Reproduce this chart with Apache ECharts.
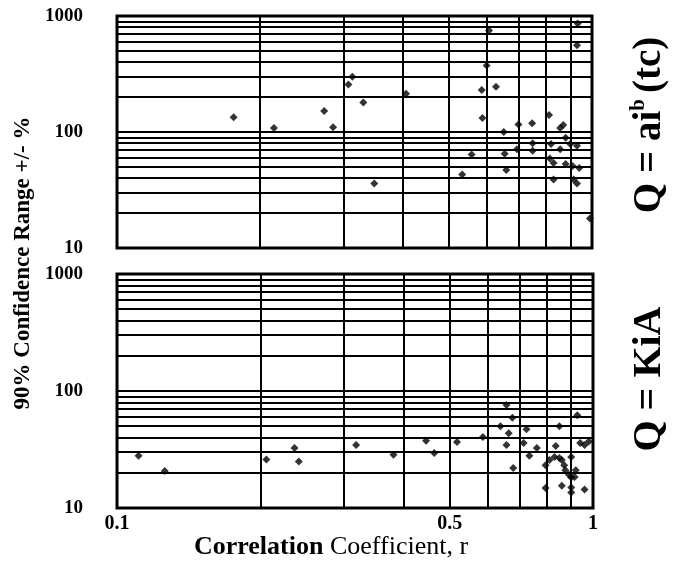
<!DOCTYPE html>
<html>
<head>
<meta charset="utf-8">
<script src="https://cdn.jsdelivr.net/npm/echarts@6/dist/echarts.min.js"></script>
<style>html,body{margin:0;padding:0;background:#fff;}#c{width:686px;height:565px;}</style>
</head>
<body>
<div id="c"></div>
<script>
// ---- data ----
const topR = [0.176,0.214,0.273,0.285,0.307,0.313,0.33,0.348,0.406,0.533,0.558,0.586,0.588,0.607,0.6,0.628,0.652,0.655,0.66,0.695,0.7,0.748,0.75,0.75,0.812,0.82,0.815,0.83,0.83,0.857,0.87,0.857,0.88,0.9,0.88,0.91,0.915,0.93,0.94,0.93,0.933,0.93,0.99];
const topV = [134,108,152,110,257,300,180,36,214,43,64,230,132,750,375,246,100,65,47,71,116,119,80,69,140,79,59,54,39,108,115,71,89,79,53,51,39,36,49,76,860,560,18];
const botR = [0.111,0.126,0.206,0.236,0.241,0.318,0.381,0.446,0.464,0.518,0.587,0.639,0.658,0.658,0.665,0.677,0.68,0.715,0.725,0.735,0.762,0.795,0.81,0.83,0.835,0.85,0.85,0.86,0.87,0.875,0.89,0.9,0.9,0.915,0.92,0.927,0.94,0.96,0.98,0.795,0.86,0.9,0.9,0.96];
const botV = [28,20.7,26,32.5,25,34.5,28.5,37.5,29.5,36.6,40.5,50,76,34.5,43.6,59,22,36,47,28,32.6,23.2,25.7,27.3,33.8,26.7,50,25.7,23.2,21,19.2,18.2,27.3,18.4,21,62,36,34.5,37,14.8,15.5,15,13.6,14.4];
const gridX = [0.1,0.2,0.3,0.4,0.5,0.6,0.7,0.8,0.9,1];
const gridY = [10,20,30,40,50,60,70,80,90,100,200,300,400,500,600,700,800,900,1000];
const xTickLabels = [0.1,0.5,1];
const yTickLabels = [10,100,1000];
const yTitle = '90% Confidence Range +/- %';
const xTitleBold = 'Correlation';
const xTitleRest = ' Coefficient, r';
const topLabel = ['Q = ai', 'b', '(tc)'];
const botLabel = 'Q = KiA';

const SERIF = '"Liberation Serif", "DejaVu Serif", serif';
const chart = echarts.init(document.getElementById('c'), null, {renderer: 'canvas'});

function pairs(r, v) { return r.map((x, i) => [x, v[i]]); }
function gridLines() {
  return gridY.map(v => ({yAxis: v})).concat(gridX.map(v => ({xAxis: v})));
}
function xAxisDef(idx, showLabels) {
  return {
    type: 'log', logBase: 10, min: 0.1, max: 1, gridIndex: idx,
    axisLine: {show: false}, axisTick: {show: false}, splitLine: {show: false},
    axisLabel: {
      show: showLabels, customValues: xTickLabels, margin: 6,
      fontFamily: SERIF, fontWeight: 'bold', fontSize: 20, color: '#000',
      formatter: v => String(+(+v).toFixed(2))
    }
  };
}
function yAxisDef(idx) {
  return {
    type: 'log', logBase: 10, min: 10, max: 1000, gridIndex: idx,
    axisLine: {show: false}, axisTick: {show: false}, splitLine: {show: false},
    axisLabel: {
      customValues: yTickLabels, margin: 34,
      fontFamily: SERIF, fontWeight: 'bold', fontSize: 19, color: '#000',
      formatter: v => String(Math.round(+v))
    }
  };
}
function lineSeries(idx) {
  return {
    type: 'scatter', xAxisIndex: idx, yAxisIndex: idx, data: [], z: 1, silent: true,
    markLine: {
      silent: true, symbol: ['none', 'none'], animation: false,
      label: {show: false},
      lineStyle: {color: '#000', width: 2, type: 'solid', opacity: 1},
      emphasis: {disabled: true},
      data: gridLines()
    }
  };
}
function pointSeries(idx, data) {
  return {
    type: 'scatter', xAxisIndex: idx, yAxisIndex: idx, data: data, z: 5,
    symbol: 'diamond', symbolSize: 8,
    itemStyle: {color: '#000'}, animation: false
  };
}

chart.setOption({
  backgroundColor: '#fff',
  animation: false,
  grid: [
    {left: 117, top: 16, width: 475, height: 232, show: true, borderColor: '#000', borderWidth: 3},
    {left: 117, top: 274, width: 476, height: 234, show: true, borderColor: '#000', borderWidth: 3}
  ],
  xAxis: [xAxisDef(0, false), xAxisDef(1, true)],
  yAxis: [yAxisDef(0), yAxisDef(1)],
  series: [lineSeries(0), lineSeries(1), pointSeries(0, pairs(topR, topV)), pointSeries(1, pairs(botR, botV))],
  graphic: [
    {
      type: 'text', x: 23, y: 263, rotation: Math.PI / 2,
      style: {text: yTitle, font: 'bold 23px ' + SERIF, fill: '#000', align: 'center', verticalAlign: 'middle'}
    },
    {
      type: 'text', x: 331, y: 547,
      style: {
        text: '{b|' + xTitleBold + '}{n|' + xTitleRest + '}', align: 'center', verticalAlign: 'middle',
        rich: {
          b: {fontFamily: SERIF, fontWeight: 'bold', fontSize: 26, fill: '#000'},
          n: {fontFamily: SERIF, fontSize: 26, fill: '#000'}
        }
      }
    },
    {
      type: 'text', x: 650, y: 125, rotation: Math.PI / 2,
      style: {
        text: '{a|' + topLabel[0] + '}{s|' + topLabel[1] + '}{t|' + topLabel[2] + '}', align: 'center', verticalAlign: 'middle',
        rich: {
          a: {fontFamily: SERIF, fontWeight: 'bold', fontSize: 39, fill: '#000', lineHeight: 44},
          s: {fontFamily: SERIF, fontWeight: 'bold', fontSize: 21, fill: '#000', verticalAlign: 'top', lineHeight: 44, padding: [0, 0, 18, 0]},
          t: {fontFamily: SERIF, fontWeight: 'bold', fontSize: 39, fill: '#000', lineHeight: 44, padding: [0, 0, 0, 6]}
        }
      }
    },
    {
      type: 'text', x: 650, y: 379, rotation: Math.PI / 2,
      style: {text: botLabel, font: 'bold 40px ' + SERIF, fill: '#000', align: 'center', verticalAlign: 'middle'}
    }
  ]
});
</script>
</body>
</html>
